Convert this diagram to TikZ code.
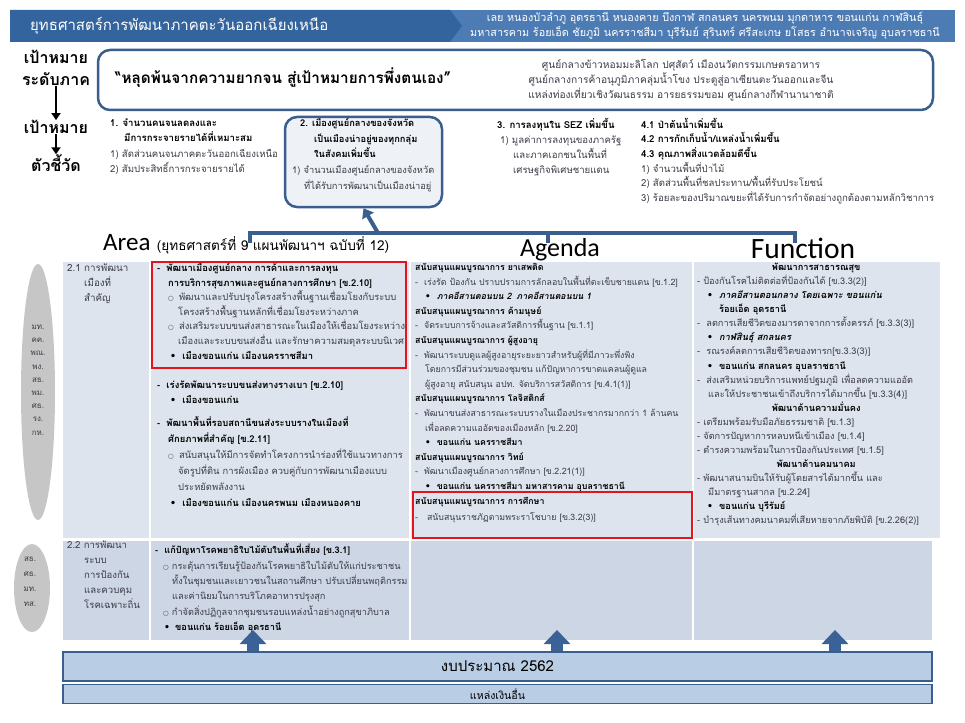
\documentclass[tikz,border=0pt]{standalone}
\usepackage{fontspec}
\setmainfont[Script=Thai]{Loma}
\newfontfamily\latf{Carlito}
\newfontfamily\dvf{DejaVu Sans}
\usetikzlibrary{arrows.meta,shapes.geometric}
\definecolor{hdrL}{HTML}{33649E}
\definecolor{hdrR}{HTML}{4D7CB5}
\definecolor{navy}{HTML}{3A5F8F}
\definecolor{rowA}{HTML}{DEE4EE}
\definecolor{rowB}{HTML}{CDD6E4}
\definecolor{budg}{HTML}{B9CDE5}
\definecolor{txg}{HTML}{3C3C48}
\definecolor{redb}{HTML}{E3141C}
\definecolor{boxg}{HTML}{EEF1F6}
\definecolor{ellg}{HTML}{C6C6C6}
\definecolor{arrb}{HTML}{3B6296}
\newcommand\ob{{\dvf\fontsize{6.5}{6.5}\selectfont ○}}
\newcommand\bu{{\dvf •}}
\newcommand\ind[1]{\hspace*{#1pt}}
\newcommand\bk[1]{{\bfseries\color{black}#1}}
\newcommand\ctr[1]{\makebox[238pt][c]{#1}}
\tikzset{
 txt/.style={anchor=north west, align=left, inner sep=0pt, text=txg},
 lbl/.style={inner sep=0pt, font=\bfseries\fontsize{16}{18}\selectfont},
 dnarrow/.style={-{Triangle[width=9pt,length=7pt]}, line width=2.2pt, black},
 blockarrow/.style={-{Triangle[width=26pt,length=14pt]}, line width=12pt, arrb},
}
\begin{document}
\begin{tikzpicture}[x=1pt,y=-1pt]
\useasboundingbox (0,0) rectangle (965,722);
\fill[white] (0,0) rectangle (965,722);
% header
\fill[hdrR] (10,10) rectangle (955,42);
\fill[hdrL] (10,10) -- (450,10) -- (462,26) -- (450,42) -- (10,42) -- cycle;
\node[anchor=west, text=white, inner sep=0pt, font=\fontsize{15}{17}\selectfont] (title) at (30,26) {ยุทธศาสตร์การพัฒนาภาคตะวันออกเฉียงเหนือ};
\node[align=center, text=white, inner sep=0pt, font=\fontsize{10.8}{15}\selectfont] (prov) at (705,26) {เลย หนองบัวลำภู อุดรธานี หนองคาย บึงกาฬ สกลนคร นครพนม มุกดาหาร ขอนแก่น กาฬสินธุ์\\ มหาสารคาม ร้อยเอ็ด ชัยภูมิ นครราชสีมา บุรีรัมย์ สุรินทร์ ศรีสะเกษ ยโสธร อำนาจเจริญ อุบลราชธานี};
% left labels
\node[lbl] (l1) at (56,57) {เป้าหมาย};
\node[lbl] (l2) at (56,79) {ระดับภาค};
\node[lbl] (l3) at (56,127) {เป้าหมาย};
\node[lbl] (l4) at (56,163) {ตัวชี้วัด};
\draw[dnarrow] (l2.south) -- (l3.north);
\draw[dnarrow] (l3.south) -- (l4.north);
% quote box
\node[draw=navy, line width=2.5pt, rounded corners=12pt, fill=white, minimum width=835pt, minimum height=60pt, inner sep=0pt] (qbox) at (515.5,80) {};
\node[anchor=west, inner sep=0pt, font=\bfseries\fontsize{15.3}{17}\selectfont] (quote) at (115,78) {“หลุดพ้นจากความยากจน สู่เป้าหมายการพึ่งตนเอง”};
\node[align=center, inner sep=0pt, text=txg, font=\fontsize{10.2}{15}\selectfont] (vision) at (681,80) {ศูนย์กลางข้าวหอมมะลิโลก ปศุสัตว์ เมืองนวัตกรรมเกษตรอาหาร\\ ศูนย์กลางการค้าอนุภูมิภาคลุ่มน้ำโขง ประตูสู่อาเซียนตะวันออกและจีน\\ แหล่งท่องเที่ยวเชิงวัฒนธรรม อารยธรรมขอม ศูนย์กลางกีฬานานาชาติ};
% goals
\node[txt, font=\fontsize{9.6}{15.6}\selectfont] (g1) at (110,118) {\bk{1. จำนวนคนจนลดลงและ}\\ \ind{14}\bk{มีการกระจายรายได้ที่เหมาะสม}\\ 1) สัดส่วนคนจนภาคตะวันออกเฉียงเหนือ\\ 2) สัมประสิทธิ์การกระจายรายได้};
\node[draw=navy, line width=2.5pt, rounded corners=12pt, fill=boxg, minimum width=157pt, minimum height=90pt, inner sep=0pt] (box2) at (363.5,162) {};
\node[txt, font=\fontsize{9.3}{15.7}\selectfont] (g2) at (292,118) {\ind{8}\bk{2. เมืองศูนย์กลางของจังหวัด}\\ \ind{22}\bk{เป็นเมืองน่าอยู่ของทุกกลุ่ม}\\ \ind{22}\bk{ในสังคมเพิ่มขึ้น}\\ 1) จำนวนเมืองศูนย์กลางของจังหวัด\\ \ind{12}ที่ได้รับการพัฒนาเป็นเมืองน่าอยู่};
\node[txt, font=\fontsize{9.6}{15}\selectfont] (g3) at (497,118) {\bk{3. การลงทุนใน SEZ เพิ่มขึ้น}\\ \ind{3}1) มูลค่าการลงทุนของภาครัฐ\\ \ind{16}และภาคเอกชนในพื้นที่\\ \ind{16}เศรษฐกิจพิเศษชายแดน};
\node[txt, font=\fontsize{9.6}{14.6}\selectfont] (g4) at (641,118) {\bk{4.1 ป่าต้นน้ำเพิ่มขึ้น}\\ \bk{4.2 การกักเก็บน้ำ/แหล่งน้ำเพิ่มขึ้น}\\ \bk{4.3 คุณภาพสิ่งแวดล้อมดีขึ้น}\\ 1) จำนวนพื้นที่ป่าไม้\\ 2) สัดส่วนพื้นที่ชลประทาน/พื้นที่รับประโยชน์\\ 3) ร้อยละของปริมาณขยะที่ได้รับการกำจัดอย่างถูกต้องตามหลักวิชาการ};
% bracket
\coordinate (bl) at (250,243);
\coordinate (bm) at (548,243);
\coordinate (br) at (795,243);
\coordinate (bc) at (378,233);
\draw[navy, line width=4pt] (bl) -- (bl |- bc) -- (br |- bc) -- (br);
\draw[navy, line width=4pt] (bm) -- (bm |- bc);
\draw[navy, line width=4pt, -{Triangle[width=13pt,length=9pt]}] (bc) -- (box2.south);
% column titles
\node[anchor=west, inner sep=0pt] (area) at (103,244) {{\latf\fontsize{25}{25}\selectfont Area}\hspace{3pt} {\fontsize{13.6}{15}\selectfont (ยุทธศาสตร์ที่ 9 แผนพัฒนาฯ ฉบับที่ 12)}};
\node[inner sep=0pt, font=\latf\fontsize{26}{26}\selectfont] (agenda) at (560,250) {Agenda};
\node[inner sep=0pt, font=\latf\fontsize{29.5}{30}\selectfont] (func) at (803,248) {Function};
% table
\fill[rowA] (63,262) rectangle (940,538);
\fill[rowB] (63,541) rectangle (932,640);
\foreach \cx in {150,410,693} \draw[white, line width=1.5pt] (\cx,262) -- (\cx,640);
% ellipses
\node[ellipse, fill=ellg, minimum width=34pt, minimum height=256pt, inner sep=0pt] (ell1) at (38,392) {};
\node[align=center, inner sep=0pt, text=txg, font=\fontsize{8}{13.2}\selectfont] (min1) at (38,380) {มท.\\ คค.\\ พณ.\\ พง.\\ สธ.\\ พม.\\ ศธ.\\ รง.\\ กห.};
\node[ellipse, fill=ellg, minimum width=36pt, minimum height=88pt, inner sep=0pt] (ell2) at (32,588) {};
\node[align=center, inner sep=0pt, text=txg, font=\fontsize{8}{15}\selectfont] (min2) at (30,582) {สธ.\\ ศธ.\\ มท.\\ ทส.};
% row 1
\node[txt, font=\fontsize{9.8}{15}\selectfont] (r1c0) at (67,263) {2.1 การพัฒนา\\ \ind{17}เมืองที่\\ \ind{17}สำคัญ};
\node[txt, font=\fontsize{9.4}{14.6}\selectfont] (r1a) at (157,263) {\bk{- \ind{3}พัฒนาเมืองศูนย์กลาง การค้าและการลงทุน}\\ \ind{11}\bk{การบริการสุขภาพและศูนย์กลางการศึกษา [ข.2.10]}\\ \ind{11}\ob\ \ind{2}พัฒนาและปรับปรุงโครงสร้างพื้นฐานเชื่อมโยงกับระบบ\\ \ind{21}โครงสร้างพื้นฐานหลักที่เชื่อมโยงระหว่างภาค\\ \ind{11}\ob\ \ind{2}ส่งเสริมระบบขนส่งสาธารณะในเมืองให้เชื่อมโยงระหว่าง\\ \ind{21}เมืองและระบบขนส่งอื่น และรักษาความสมดุลระบบนิเวศ\\ \ind{13}\bk{\bu\ \ind{3}เมืองขอนแก่น เมืองนครราชสีมา}};
\node[txt, font=\fontsize{9.4}{15}\selectfont] (r1b) at (157,381) {\bk{- \ind{3}เร่งรัดพัฒนาระบบขนส่งทางรางเบา [ข.2.10]}\\ \ind{13}\bk{\bu\ \ind{3}เมืองขอนแก่น}};
\node[txt, font=\fontsize{9.4}{16}\selectfont] (r1c) at (157,416) {\bk{- \ind{3}พัฒนาพื้นที่รอบสถานีขนส่งระบบรางในเมืองที่}\\ \ind{11}\bk{ศักยภาพที่สำคัญ [ข.2.11]}\\ \ind{11}\ob\ \ind{2}สนับสนุนให้มีการจัดทำโครงการนำร่องที่ใช้แนวทางการ\\ \ind{21}จัดรูปที่ดิน การผังเมือง ควบคู่กับการพัฒนาเมืองแบบ\\ \ind{21}ประหยัดพลังงาน\\ \ind{13}\bk{\bu\ \ind{3}เมืองขอนแก่น เมืองนครพนม เมืองหนองคาย}};
\node[txt, font=\fontsize{8.8}{14.6}\selectfont] (agd) at (415,263) {\bk{สนับสนุนแผนบูรณาการ ยาเสพติด}\\ - \ind{3}เร่งรัด ป้องกัน ปราบปรามการลักลอบในพื้นที่ตะเข็บชายแดน [ข.1.2]\\ \ind{10}\bk{\bu\ \ind{3}\itshape ภาคอีสานตอนบน 2 \ind{2}ภาคอีสานตอนบน 1}\\ \bk{สนับสนุนแผนบูรณาการ ค้ามนุษย์}\\ - \ind{3}จัดระบบการจ้างและสวัสดิการพื้นฐาน [ข.1.1]\\ \bk{สนับสนุนแผนบูรณาการ ผู้สูงอายุ}\\ - \ind{3}พัฒนาระบบดูแลผู้สูงอายุระยะยาวสำหรับผู้ที่มีภาวะพึ่งพิง\\ \ind{10}โดยการมีส่วนร่วมของชุมชน แก้ปัญหาการขาดแคลนผู้ดูแล\\ \ind{10}ผู้สูงอายุ สนับสนุน อปท. จัดบริการสวัสดิการ [ข.4.1(1)]\\ \bk{สนับสนุนแผนบูรณาการ โลจิสติกส์}\\ - \ind{3}พัฒนาขนส่งสาธารณะระบบรางในเมืองประชากรมากกว่า 1 ล้านคน\\ \ind{10}เพื่อลดความแออัดของเมืองหลัก [ข.2.20]\\ \ind{10}\bk{\bu\ \ind{3}ขอนแก่น นครราชสีมา}\\ \bk{สนับสนุนแผนบูรณาการ วิทย์}\\ - \ind{3}พัฒนาเมืองศูนย์กลางการศึกษา [ข.2.21(1)]\\ \ind{10}\bk{\bu\ \ind{3}ขอนแก่น นครราชสีมา มหาสารคาม อุบลราชธานี}};
\node[txt, font=\fontsize{8.8}{16}\selectfont] (agd2) at (415,497) {\bk{สนับสนุนแผนบูรณาการ การศึกษา}\\ - \ind{6}สนับสนุนราชภัฏตามพระราโชบาย [ข.3.2(3)]};
\draw[redb, line width=2pt] (152,262) rectangle (406,368);
\draw[redb, line width=2pt] (413,492) rectangle (692,538);
\node[txt, font=\fontsize{9.2}{14.06}\selectfont] (fn) at (697,263) {\ctr{\bk{พัฒนาการสาธารณสุข}}\\ - ป้องกันโรคไม่ติดต่อที่ป้องกันได้ [ข.3.3(2)]\\ \ind{10}\bk{\bu\ \ind{3}\itshape ภาคอีสานตอนกลาง โดยเฉพาะ ขอนแก่น}\\ \ind{22}\bk{ร้อยเอ็ด อุดรธานี}\\ - \ind{3}ลดการเสียชีวิตของมารดาจากการตั้งครรภ์ [ข.3.3(3)]\\ \ind{10}\bk{\bu\ \ind{3}\itshape กาฬสินธุ์ สกลนคร}\\ - \ind{3}รณรงค์ลดการเสียชีวิตของทารก[ข.3.3(3)]\\ \ind{10}\bk{\bu\ \ind{3}ขอนแก่น สกลนคร อุบลราชธานี}\\ - \ind{3}ส่งเสริมหน่วยบริการแพทย์ปฐมภูมิ เพื่อลดความแออัด\\ \ind{11}และให้ประชาชนเข้าถึงบริการได้มากขึ้น [ข.3.3(4)]\\ \ctr{\bk{พัฒนาด้านความมั่นคง}}\\ - เตรียมพร้อมรับมือภัยธรรมชาติ [ข.1.3]\\ - จัดการปัญหาการหลบหนีเข้าเมือง [ข.1.4]\\ - ดำรงความพร้อมในการป้องกันประเทศ [ข.1.5]\\ \ctr{\bk{พัฒนาด้านคมนาคม}}\\ - พัฒนาสนามบินให้รับผู้โดยสารได้มากขึ้น และ\\ \ind{11}มีมาตรฐานสากล [ข.2.24]\\ \ind{10}\bk{\bu\ \ind{3}ขอนแก่น บุรีรัมย์}\\ - บำรุงเส้นทางคมนาคมที่เสียหายจากภัยพิบัติ [ข.2.26(2)]};
% row 2
\node[txt, font=\fontsize{9.6}{15}\selectfont] (r2c0) at (67,541) {2.2 การพัฒนา\\ \ind{17}ระบบ\\ \ind{17}การป้องกัน\\ \ind{17}และควบคุม\\ \ind{17}โรคเฉพาะถิ่น};
\node[txt, font=\fontsize{9.2}{15.3}\selectfont] (r2a) at (155,544) {\bk{- \ind{3}แก้ปัญหาโรคพยาธิใบไม้ตับในพื้นที่เสี่ยง [ข.3.1]}\\ \ind{8}\ob\ กระตุ้นการเรียนรู้ป้องกันโรคพยาธิใบไม้ตับให้แก่ประชาชน\\ \ind{17}ทั้งในชุมชนและเยาวชนในสถานศึกษา ปรับเปลี่ยนพฤติกรรม\\ \ind{17}และค่านิยมในการบริโภคอาหารปรุงสุก\\ \ind{8}\ob\ กำจัดสิ่งปฏิกูลจากชุมชนรอบแหล่งน้ำอย่างถูกสุขาภิบาล\\ \ind{9}\bk{\bu\ \ind{2}ขอนแก่น ร้อยเอ็ด อุดรธานี}};
% budget
\node[draw=navy, fill=budg, line width=1.2pt, minimum width=869pt, minimum height=29pt, inner sep=0pt, font=\fontsize{15}{17}\selectfont] (budget) at (497.5,666.5) {งบประมาณ 2562};
\node[draw=navy, fill=budg, line width=1.2pt, minimum width=869pt, minimum height=19pt, inner sep=0pt, font=\fontsize{10.6}{12}\selectfont] (other) at (497.5,694) {แหล่งเงินอื่น};
\coordinate (t1) at (253,630);
\coordinate (t2) at (557,630);
\coordinate (t3) at (835,630);
\foreach \t in {t1,t2,t3} \draw[blockarrow] (budget.north -| \t) -- (\t);
\end{tikzpicture}
\end{document}
